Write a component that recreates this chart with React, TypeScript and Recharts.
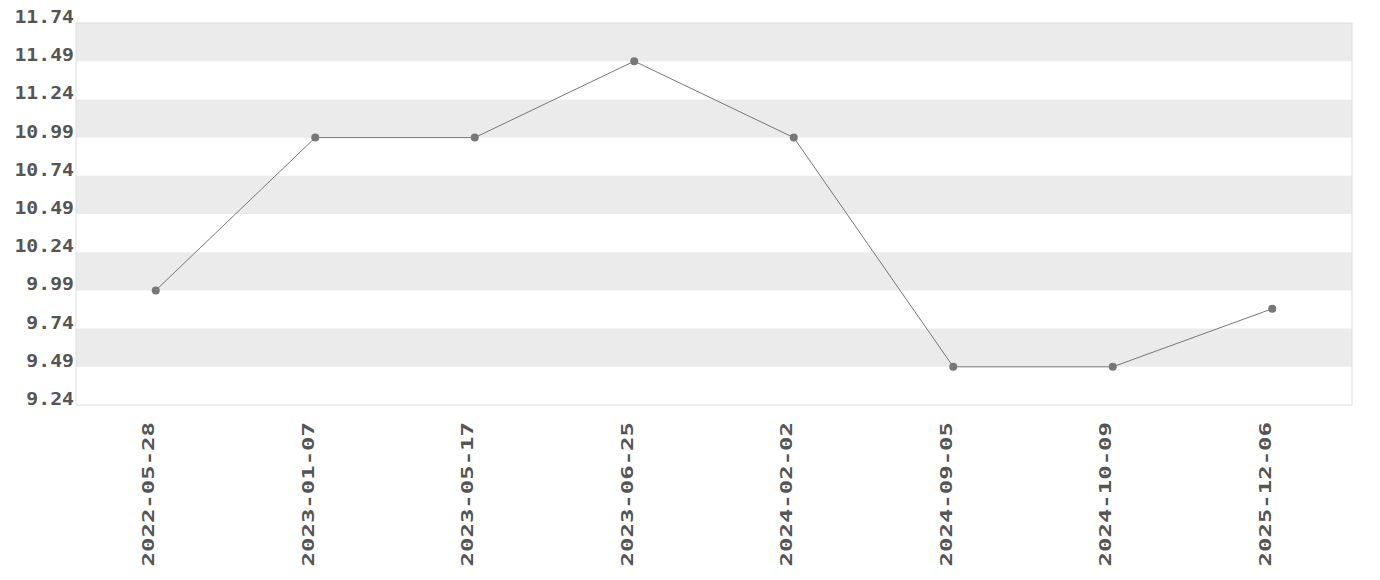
import React from 'react';
import { LineChart, Line, XAxis, YAxis, ReferenceArea } from 'recharts';

const dates = ['2022-05-28', '2023-01-07', '2023-05-17', '2023-06-25', '2024-02-02', '2024-09-05', '2024-10-09', '2025-12-06'];
const values = [9.99, 10.99, 10.99, 11.49, 10.99, 9.49, 9.49, 9.87];
const yTicks = [9.24, 9.49, 9.74, 9.99, 10.24, 10.49, 10.74, 10.99, 11.24, 11.49, 11.74];

const data = dates.map((d, i) => ({ idx: i, date: d, value: values[i] }));
const xTicks = dates.map((_, i) => i);

// gray bands: from top, every other interval starting with the top one
const bands: [number, number][] = [];
for (let i = yTicks.length - 1; i > 0; i -= 2) {
  bands.push([yTicks[i - 1], yTicks[i]]);
}

const FONT = '"DejaVu Sans Mono", monospace';
const TEXT = '#555555';

const YTick = (props: any) => {
  const { x, y, payload } = props;
  return (
    <text
      transform={`translate(${x}, ${y}) scale(1.1, 1)`}
      x={0}
      y={0}
      textAnchor="end"
      fill={TEXT}
      fontFamily={FONT}
      fontWeight="bold"
      fontSize={18}
    >
      {payload.value.toFixed(2)}
    </text>
  );
};

const XTick = (props: any) => {
  const { x, y, payload } = props;
  const bx = x - 1.5;
  const by = y + 15;
  return (
    <text
      transform={`translate(${bx}, ${by}) rotate(-90) scale(1.6, 1)`}
      x={0}
      y={0}
      textAnchor="end"
      fill={TEXT}
      fontFamily={FONT}
      fontWeight="bold"
      fontSize={15}
    >
      {dates[payload.value]}
    </text>
  );
};

export default function App() {
  return (
    <div style={{ marginTop: -8, marginLeft: -8, width: 1380, height: 578 }}>
      <LineChart width={1380} height={578} data={data} margin={{ top: 23, right: 28, bottom: 0, left: 0 }}>
        {bands.map(([a, b]) => (
          <ReferenceArea key={a} y1={a} y2={b} fill="#ebebeb" fillOpacity={1} stroke="none" ifOverflow="visible" />
        ))}
        <ReferenceArea y1={9.24} y2={11.74} fill="none" stroke="#dddddd" strokeWidth={1} ifOverflow="visible" />
        <XAxis
          dataKey="idx"
          type="number"
          domain={[-0.5, dates.length - 0.5]}
          ticks={xTicks}
          axisLine={false}
          tickLine={false}
          tickSize={0}
          height={173}
          tick={<XTick />}
          interval={0}
        />
        <YAxis
          type="number"
          domain={[9.24, 11.74]}
          ticks={yTicks}
          width={76}
          axisLine={false}
          tickLine={false}
          tickSize={0}
          tickMargin={2}
          tick={<YTick />}
          interval={0}
        />
        <Line
          dataKey="value"
          stroke="#777777"
          strokeWidth={1}
          dot={{ r: 4, fill: '#777777', stroke: 'none' }}
          activeDot={false}
          isAnimationActive={false}
        />
      </LineChart>
    </div>
  );
}
